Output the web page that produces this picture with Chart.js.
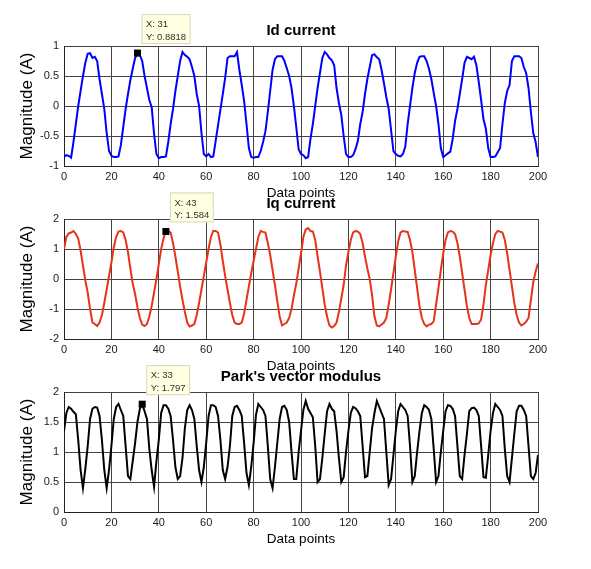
<!DOCTYPE html>
<html>
<head>
<meta charset="utf-8">
<title>Id / Iq current and Park's vector modulus</title>
<script src="https://cdn.jsdelivr.net/npm/chart.js@4.4.1/dist/chart.umd.min.js"></script>
<style>
  body { margin: 0; background: #fff; width: 591px; height: 569px; position: relative; overflow: hidden; }
  .panel { position: absolute; left: 0; width: 591px; }
</style>
</head>
<body>
<div class="panel" style="top:0;height:202px"><canvas id="idChart"></canvas></div>
<div class="panel" style="top:180px;height:195px"><canvas id="iqChart"></canvas></div>
<div class="panel" style="top:355px;height:193px"><canvas id="parkChart"></canvas></div>
<script>
// values, one per data point (0..200)
const idCurrent = [
  -0.85, -0.82, -0.83, -0.86, -0.6, -0.3, 0.0, 0.25, 0.5, 0.72, 0.87, 0.88, 0.8, 0.82, 0.75, 0.45, 0.2, -0.05, -0.45, -0.75,
  -0.83, -0.85, -0.85, -0.84, -0.65, -0.35, -0.05, 0.2, 0.43, 0.62, 0.8, 0.8818, 0.85, 0.75, 0.5, 0.3, 0.1, -0.02, -0.46, -0.8,
  -0.87, -0.85, -0.85, -0.84, -0.6, -0.3, -0.05, 0.25, 0.5, 0.75, 0.9, 0.85, 0.82, 0.78, 0.65, 0.5, 0.2, 0.0, -0.45, -0.8,
  -0.84, -0.8, -0.85, -0.84, -0.58, -0.32, -0.06, 0.2, 0.47, 0.8, 0.83, 0.83, 0.83, 0.9, 0.6, 0.35, 0.08, -0.3, -0.7, -0.85,
  -0.86, -0.85, -0.85, -0.75, -0.6, -0.42, -0.1, 0.25, 0.6, 0.78, 0.83, 0.83, 0.83, 0.75, 0.63, 0.5, 0.3, 0.0, -0.35, -0.72,
  -0.8, -0.82, -0.87, -0.85, -0.55, -0.3, 0.0, 0.3, 0.55, 0.8, 0.9, 0.86, 0.8, 0.76, 0.68, 0.3, 0.05, -0.15, -0.5, -0.8,
  -0.85, -0.85, -0.82, -0.72, -0.58, -0.3, -0.1, 0.2, 0.45, 0.65, 0.85, 0.86, 0.81, 0.78, 0.6, 0.38, 0.15, -0.05, -0.4, -0.75,
  -0.8, -0.83, -0.84, -0.8, -0.68, -0.3, 0.0, 0.3, 0.55, 0.72, 0.82, 0.83, 0.83, 0.75, 0.62, 0.45, 0.22, 0.0, -0.3, -0.7,
  -0.85, -0.82, -0.79, -0.76, -0.55, -0.25, -0.05, 0.2, 0.45, 0.72, 0.82, 0.8, 0.78, 0.82, 0.68, 0.4, 0.1, -0.22, -0.38, -0.7,
  -0.85, -0.85, -0.84, -0.77, -0.7, -0.3, 0.05, 0.25, 0.35, 0.75, 0.83, 0.83, 0.83, 0.8, 0.65, 0.55, 0.3, -0.1, -0.45, -0.6,
  -0.85
];

const iqCurrent = [
  1.0, 1.4, 1.52, 1.55, 1.6, 1.5, 1.35, 0.95, 0.45, -0.05, -0.45, -1.0, -1.45, -1.5, -1.57, -1.45, -1.2, -0.8, -0.35, 0.1,
  0.55, 1.05, 1.4, 1.58, 1.6, 1.55, 1.3, 0.9, 0.35, -0.15, -0.5, -0.95, -1.3, -1.52, -1.57, -1.5, -1.25, -0.9, -0.45, 0.0,
  0.5, 1.0, 1.35, 1.584, 1.6, 1.55, 1.2, 0.75, 0.25, -0.25, -0.7, -1.1, -1.45, -1.58, -1.55, -1.5, -1.2, -0.8, -0.35, 0.1,
  0.55, 1.0, 1.4, 1.6, 1.6, 1.55, 1.15, 0.6, 0.1, -0.35, -0.8, -1.2, -1.45, -1.5, -1.5, -1.45, -1.15, -0.7, -0.25, 0.2,
  0.6, 1.0, 1.4, 1.6, 1.57, 1.55, 1.2, 0.8, 0.3, -0.2, -0.75, -1.25, -1.55, -1.5, -1.45, -1.3, -1.0, -0.55, -0.15, 0.35,
  0.85, 1.4, 1.65, 1.7, 1.6, 1.58, 1.3, 0.75, 0.25, -0.3, -0.85, -1.25, -1.55, -1.62, -1.57, -1.45, -1.1, -0.65, -0.2, 0.45,
  0.9, 1.3, 1.55, 1.6, 1.58, 1.5, 1.2, 0.75, 0.35, 0.0, -0.55, -1.25, -1.55, -1.58, -1.52, -1.45, -1.3, -0.85, -0.35, 0.2,
  0.75, 1.25, 1.55, 1.6, 1.58, 1.57, 1.3, 0.9, 0.3, -0.3, -0.9, -1.3, -1.5, -1.58, -1.52, -1.5, -1.4, -0.85, -0.3, 0.3,
  0.85, 1.3, 1.55, 1.6, 1.58, 1.5, 1.2, 0.75, 0.2, -0.35, -0.9, -1.3, -1.5, -1.5, -1.5, -1.48, -1.35, -0.85, -0.2, 0.3,
  0.8, 1.2, 1.5, 1.6, 1.58, 1.55, 1.3, 0.85, 0.3, -0.25, -0.8, -1.2, -1.45, -1.55, -1.5, -1.42, -1.3, -0.7, -0.1, 0.25,
  0.52
];

const parkModulus = [
  1.35, 1.65, 1.75, 1.72, 1.67, 1.63, 1.2, 0.7, 0.4, 0.72, 1.1, 1.55, 1.72, 1.75, 1.74, 1.6, 1.2, 0.7, 0.4, 0.7,
  1.1, 1.55, 1.75, 1.8, 1.7, 1.6, 1.1, 0.6, 0.55, 0.85, 1.15, 1.5, 1.72, 1.797, 1.68, 1.55, 1.05, 0.7, 0.42, 0.85,
  1.2, 1.65, 1.78, 1.78, 1.72, 1.6, 1.2, 0.75, 0.55, 0.6, 0.9, 1.4, 1.7, 1.78, 1.7, 1.55, 1.1, 0.7, 0.5, 0.75,
  1.15, 1.6, 1.78, 1.78, 1.75, 1.6, 1.2, 0.7, 0.55, 0.75, 1.1, 1.6, 1.75, 1.77, 1.7, 1.6, 1.15, 0.65, 0.45, 0.75,
  1.15, 1.62, 1.8, 1.75, 1.7, 1.6, 1.1, 0.55, 0.4, 0.75, 1.15, 1.55, 1.75, 1.77, 1.7, 1.5, 1.0, 0.55, 0.55, 1.0,
  1.35, 1.7, 1.85, 1.72, 1.65, 1.58, 1.1, 0.5, 0.55, 0.9, 1.3, 1.68, 1.8, 1.72, 1.68, 1.35, 0.9, 0.5, 0.58, 1.0,
  1.35, 1.65, 1.75, 1.73, 1.68, 1.6, 1.1, 0.58, 0.6, 1.0, 1.4, 1.65, 1.85, 1.75, 1.65, 1.55, 1.0, 0.45, 0.55, 0.95,
  1.35, 1.68, 1.8, 1.75, 1.7, 1.6, 1.1, 0.5, 0.6, 1.0, 1.35, 1.65, 1.78, 1.75, 1.7, 1.55, 1.05, 0.5, 0.6, 1.0,
  1.35, 1.68, 1.78, 1.77, 1.72, 1.6, 1.1, 0.6, 0.55, 0.95, 1.3, 1.68, 1.73, 1.74, 1.7, 1.6, 1.1, 0.58, 0.57, 0.95,
  1.35, 1.65, 1.8, 1.75, 1.7, 1.6, 1.05, 0.6, 0.5, 0.9, 1.3, 1.68, 1.77, 1.77, 1.7, 1.6, 1.1, 0.6, 0.55, 0.65,
  0.95
];

const xTicks = [0, 20, 40, 60, 80, 100, 120, 140, 160, 180, 200];
const idTicks = [-1, -0.5, 0, 0.5, 1];
const iqTicks = [-2, -1, 0, 1, 2];
const parkTicks = [0, 0.5, 1, 1.5, 2];

const FONT = "'Liberation Sans', Arial, sans-serif";
Chart.defaults.font.family = FONT;
Chart.defaults.color = "#1a1a1a";

// MATLAB-style data tip: black marker + pale yellow label box
const dataTip = {
  id: "dataTip",
  afterDatasetsDraw(chart, args, opts) {
    const pt = chart.data.datasets[0].data[opts.index];
    const px = chart.scales.x.getPixelForValue(pt.x);
    const py = chart.scales.y.getPixelForValue(pt.y);
    const ctx = chart.ctx;
    const lines = ["X: " + pt.x, "Y: " + pt.y];

    ctx.save();
    ctx.fillStyle = "#000";
    ctx.fillRect(px - 3.5, py - 3.5, 7, 7);

    ctx.font = "9.5px " + FONT;
    const w = Math.max(...lines.map((t) => ctx.measureText(t).width)) + 9;
    const bx = px + 4;
    const by = py - 39;
    ctx.fillStyle = "#ffffe1";
    ctx.fillRect(bx, by, w, 30);
    ctx.strokeStyle = "#d6d6c4";
    ctx.lineWidth = 1;
    ctx.strokeRect(bx + 0.5, by + 0.5, w - 1, 29);

    ctx.fillStyle = "#333";
    ctx.textBaseline = "middle";
    ctx.fillText(lines[0], bx + 4.5, by + 10.5);
    ctx.fillText(lines[1], bx + 4.5, by + 23);
    ctx.restore();
  },
};

function makeChart(id, cfg) {
  const points = cfg.values.map((y, i) => ({ x: i, y }));
  return new Chart(document.getElementById(id), {
    type: "line",
    data: {
      datasets: [
        {
          data: points,
          borderColor: cfg.color,
          borderWidth: 2,
          pointRadius: 0,
          tension: 0,
          fill: false,
        },
      ],
    },
    plugins: [dataTip],
    options: {
      responsive: true,
      maintainAspectRatio: false,
      animation: false,
      events: [],
      layout: { padding: { left: 0, right: 53, top: 0, bottom: 0 } },
      plugins: {
        legend: { display: false },
        tooltip: { enabled: false },
        title: {
          display: true,
          text: cfg.title,
          fullSize: false,
          color: "#000",
          font: { size: 15, weight: "bold" },
          padding: { top: cfg.titleTop, bottom: 6 },
        },
        dataTip: { index: cfg.tip },
      },
      scales: {
        x: {
          type: "linear",
          min: 0,
          max: 200,
          afterBuildTicks: (s) => { s.ticks = xTicks.map((v) => ({ value: v })); },
          afterFit: (s) => { s.height = 36; },
          ticks: { font: { size: 11 }, padding: 4, maxRotation: 0, autoSkip: false, callback: (v) => String(v) },
          grid: { color: "#444", lineWidth: 1, drawTicks: false },
          border: { color: "#222", width: 1 },
          title: {
            display: true,
            text: "Data points",
            color: "#000",
            font: { size: 13.5 },
            padding: { top: 0, bottom: 0.6 },
          },
        },
        y: {
          type: "linear",
          min: cfg.ticks[0],
          max: cfg.ticks[cfg.ticks.length - 1],
          afterBuildTicks: (s) => { s.ticks = cfg.ticks.map((v) => ({ value: v })); },
          afterFit: (s) => { s.width = 64; },
          ticks: { font: { size: 11 }, padding: 5, autoSkip: false, callback: (v) => String(v) },
          grid: { color: "#444", lineWidth: 1, drawTicks: false },
          border: { color: "#222", width: 1 },
          title: {
            display: true,
            text: "Magnitude (A)",
            color: "#000",
            font: { size: 17 },
            padding: { top: 16.8, bottom: 0 },
          },
        },
      },
    },
  });
}

makeChart("idChart", { title: "Id current", values: idCurrent, color: "#0000ff", ticks: idTicks, tip: 31, titleTop: 22 });
makeChart("iqChart", { title: "Iq current", values: iqCurrent, color: "#e5341a", ticks: iqTicks, tip: 43, titleTop: 15 });
makeChart("parkChart", { title: "Park's vector modulus", values: parkModulus, color: "#000000", ticks: parkTicks, tip: 33, titleTop: 13 });
</script>
</body>
</html>
